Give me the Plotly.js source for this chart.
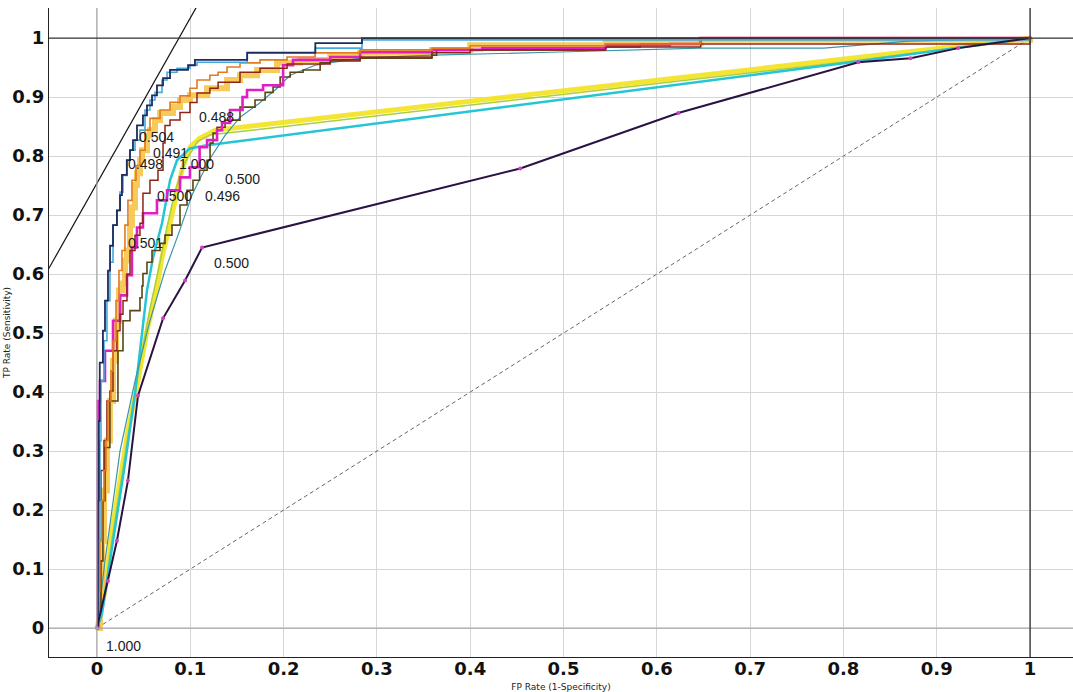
<!DOCTYPE html>
<html>
<head>
<meta charset="utf-8">
<script src="https://cdn.plot.ly/plotly-3.0.1.min.js"></script>
<style>
  html, body { margin: 0; padding: 0; background: #ffffff; }
  #chart { width: 1073px; height: 692px; }
</style>
</head>
<body>
<div id="chart"></div>
<script>
// ROC curves of several classifiers (FP rate vs TP rate)

const tickVals = [0, 0.1, 0.2, 0.3, 0.4, 0.5, 0.6, 0.7, 0.8, 0.9, 1];
const xTickText = ['0', '0.1', '0.2', '0.3', '0.4', '0.5', '0.6', '0.7', '0.8', '0.9', '1'];
const yTickText = ['0', '0.1', '0.2', '0.3', '0.4', '0.5', '0.6', '0.7', '0.8', '0.9', '1'];

// stepped curves
const fprNavy = [0, 0.001, 0.002, 0.003, 0.0064, 0.0086, 0.0118, 0.014, 0.0172, 0.0214, 0.0247, 0.0268, 0.032, 0.0354, 0.0386, 0.0429, 0.0493, 0.0536, 0.059, 0.0643, 0.0708, 0.0783, 0.0976, 0.105, 0.161, 0.234, 0.284, 1];
const tprNavy = [0, 0.216, 0.351, 0.45, 0.504, 0.555, 0.606, 0.648, 0.683, 0.708, 0.734, 0.768, 0.793, 0.81, 0.827, 0.852, 0.869, 0.886, 0.903, 0.92, 0.932, 0.946, 0.954, 0.963, 0.975, 0.9915, 1.0, 1.0];

const fprSky = [0, 0.001, 0.0032, 0.0043, 0.0075, 0.0107, 0.0139, 0.0172, 0.0214, 0.0247, 0.0279, 0.0322, 0.0354, 0.0408, 0.0461, 0.0515, 0.0568, 0.0622, 0.0697, 0.0751, 0.0858, 0.0997, 0.1072, 0.161, 0.234, 0.284, 1];
const tprSky = [0, 0.148, 0.317, 0.419, 0.487, 0.555, 0.62, 0.683, 0.708, 0.739, 0.767, 0.793, 0.81, 0.827, 0.844, 0.878, 0.895, 0.908, 0.929, 0.942, 0.949, 0.954, 0.959, 0.976, 0.983, 0.997, 1.0];

const fprGold = [0, 0.0032, 0.0054, 0.0075, 0.0107, 0.0139, 0.0172, 0.0204, 0.0236, 0.0268, 0.03, 0.0322, 0.0354, 0.0375, 0.0408, 0.0429, 0.0461, 0.0483, 0.0536, 0.0568, 0.0622, 0.0676, 0.0815, 0.089, 0.0997, 0.118, 0.1394, 0.1533, 0.1716, 0.193, 0.2177, 0.25, 0.282, 0.359, 0.4, 0.545, 0.647, 1];
const tprGold = [0, 0.046, 0.148, 0.233, 0.318, 0.385, 0.453, 0.521, 0.572, 0.584, 0.623, 0.64, 0.683, 0.713, 0.751, 0.771, 0.793, 0.81, 0.835, 0.844, 0.861, 0.873, 0.883, 0.895, 0.903, 0.915, 0.929, 0.937, 0.946, 0.958, 0.963, 0.969, 0.975, 0.98, 0.988, 0.992, 0.997, 1.0];

const fprOrange = [0, 0.002, 0.003, 0.005, 0.0075, 0.0097, 0.0118, 0.015, 0.0172, 0.0204, 0.0236, 0.0268, 0.03, 0.0332, 0.0375, 0.0418, 0.0461, 0.0515, 0.0568, 0.0676, 0.0783, 0.089, 0.0997, 0.1072, 0.121, 0.1298, 0.1394, 0.1533, 0.1748, 0.2037, 0.2338, 0.282, 0.359, 0.4, 0.545, 0.647, 1];
const tprOrange = [0, 0.063, 0.148, 0.216, 0.267, 0.318, 0.385, 0.436, 0.487, 0.555, 0.606, 0.64, 0.683, 0.725, 0.759, 0.784, 0.81, 0.844, 0.864, 0.878, 0.891, 0.902, 0.915, 0.929, 0.937, 0.942, 0.951, 0.958, 0.963, 0.968, 0.975, 0.98, 0.983, 0.987, 0.99, 1.0, 1.0];

const fprRed = [0, 0.001, 0.002, 0.0043, 0.0075, 0.0107, 0.0139, 0.0172, 0.0214, 0.0247, 0.0279, 0.0322, 0.0354, 0.0408, 0.0461, 0.0493, 0.0568, 0.0654, 0.0708, 0.0729, 0.0783, 0.089, 0.0997, 0.1072, 0.121, 0.1298, 0.1533, 0.1748, 0.2037, 0.25, 0.282, 0.359, 0.4, 0.545, 0.647, 1];
const tprRed = [0, 0.114, 0.216, 0.267, 0.318, 0.385, 0.402, 0.47, 0.504, 0.532, 0.555, 0.6, 0.64, 0.666, 0.686, 0.737, 0.759, 0.776, 0.822, 0.852, 0.861, 0.874, 0.891, 0.907, 0.915, 0.925, 0.942, 0.949, 0.956, 0.961, 0.968, 0.975, 0.98, 0.985, 0.99, 1.0];

const fprMagenta = [0, 0.001, 0.0032, 0.0086, 0.0172, 0.0247, 0.0322, 0.0375, 0.0429, 0.0493, 0.0643, 0.0751, 0.089, 0.0997, 0.11, 0.118, 0.1287, 0.134, 0.1426, 0.156, 0.1608, 0.1748, 0.178, 0.1995, 0.2101, 0.25, 0.282, 0.359, 0.413, 0.545, 0.614, 0.647, 1];
const tprMagenta = [0, 0.385, 0.419, 0.47, 0.521, 0.564, 0.598, 0.645, 0.679, 0.703, 0.725, 0.742, 0.764, 0.781, 0.815, 0.827, 0.844, 0.856, 0.878, 0.9, 0.912, 0.912, 0.92, 0.954, 0.963, 0.968, 0.976, 0.98, 0.983, 0.988, 0.99, 1.0, 1.0];

const fprOlive = [0, 0.002, 0.0043, 0.0064, 0.0086, 0.0139, 0.0225, 0.0279, 0.0354, 0.0461, 0.0483, 0.0493, 0.0536, 0.059, 0.0676, 0.0729, 0.0804, 0.089, 0.0965, 0.1029, 0.11, 0.118, 0.1212, 0.1244, 0.1287, 0.1373, 0.1533, 0.1694, 0.1802, 0.1887, 0.1963, 0.207, 0.2209, 0.2392, 0.25, 0.282, 0.359, 0.364, 0.545, 0.582, 0.647, 1];
const tprOlive = [0, 0.029, 0.114, 0.216, 0.306, 0.385, 0.47, 0.521, 0.538, 0.56, 0.58, 0.601, 0.62, 0.64, 0.652, 0.666, 0.683, 0.717, 0.742, 0.759, 0.776, 0.793, 0.822, 0.839, 0.849, 0.861, 0.883, 0.895, 0.908, 0.917, 0.934, 0.942, 0.946, 0.958, 0.963, 0.966, 0.971, 0.98, 0.985, 0.99, 1.0, 1.0];

// smooth curves
const fprTeal = [0, 0.0086, 0.0247, 0.0408, 0.0568, 0.0729, 0.0869, 0.0944, 0.1019, 0.1105, 0.1212, 0.1373, 0.1533, 0.1726, 0.1909, 0.207, 0.2338, 0.282, 0.359, 0.486, 0.647, 0.779, 0.87, 1];
const tprTeal = [0, 0.114, 0.3, 0.419, 0.521, 0.606, 0.666, 0.7, 0.734, 0.762, 0.796, 0.835, 0.866, 0.888, 0.912, 0.937, 0.954, 0.966, 0.971, 0.976, 0.983, 0.983, 0.995, 1.0];

const fprCyan = [0, 0.0054, 0.0161, 0.03, 0.0408, 0.0483, 0.0536, 0.0601, 0.0697, 0.0783, 0.0858, 0.0997, 0.116, 0.808, 1];
const tprCyan = [0, 0.024, 0.136, 0.278, 0.397, 0.504, 0.572, 0.628, 0.686, 0.759, 0.793, 0.813, 0.818, 0.959, 1.0];

const fprYellow = [0, 0.0086, 0.0161, 0.0247, 0.0332, 0.044, 0.0536, 0.0643, 0.0697, 0.0783, 0.0858, 0.0911, 0.0997, 0.11, 0.127, 0.8, 1];
const tprYellow = [0, 0.063, 0.165, 0.25, 0.334, 0.419, 0.504, 0.577, 0.628, 0.686, 0.742, 0.776, 0.815, 0.83, 0.844, 0.963, 1.0];

const fprLime = [0, 0.0075, 0.0161, 0.0268, 0.0375, 0.0483, 0.0579, 0.0676, 0.0751, 0.0836, 0.0944, 0.108, 0.122, 0.81, 1];
const tprLime = [0, 0.05, 0.15, 0.26, 0.37, 0.47, 0.55, 0.62, 0.68, 0.74, 0.79, 0.825, 0.836, 0.961, 1.0];

const fprPurple = [0, 0.0118, 0.0214, 0.0332, 0.044, 0.0708, 0.0944, 0.1126, 0.4536, 0.623, 0.816, 0.872, 0.923, 1];
const tprPurple = [0, 0.08, 0.148, 0.25, 0.394, 0.525, 0.589, 0.645, 0.779, 0.873, 0.959, 0.966, 0.983, 1.0];

// reference lines
const chanceX = [0, 1];
const chanceY = [0, 1];
const isoX = [-0.06, 0.11];
const isoY = [0.586, 1.062];

// threshold labels
const thrText = ['0.488', '0.504', '0.491', '0.498', '1.000', '0.500', '0.500', '0.496', '0.501', '0.500', '1.000'];
const thrX = [0.128, 0.064, 0.079, 0.0525, 0.107, 0.1555, 0.0836, 0.135, 0.0515, 0.1437, 0.0279];
const thrY = [0.866, 0.832, 0.806, 0.786, 0.786, 0.761, 0.732, 0.732, 0.652, 0.618, -0.031];

function stepped(x, y, color, width, opacity) {
  return { x: x, y: y, mode: 'lines', type: 'scatter', hoverinfo: 'skip',
           line: { color: color, width: width, shape: 'hv' }, opacity: opacity || 1 };
}
function smooth(x, y, color, width, opacity) {
  return { x: x, y: y, mode: 'lines', type: 'scatter', hoverinfo: 'skip',
           line: { color: color, width: width }, opacity: opacity || 1 };
}

const traces = [
  smooth(chanceX, chanceY, '#666666', 1),
  smooth(fprYellow, tprYellow, '#f3e21f', 5, 0.9),
  stepped(fprGold, tprGold, '#f4c23c', 6, 0.85),
  smooth(fprLime, tprLime, '#a9cf3b', 1.5),
  smooth(fprCyan, tprCyan, '#24c6d6', 2.5),
  smooth(fprTeal, tprTeal, '#3a95a8', 1.2),
  stepped(fprOlive, tprOlive, '#5a4414', 1.6),
  stepped(fprMagenta, tprMagenta, '#e11ec3', 2.6),
  stepped(fprRed, tprRed, '#8e2416', 1.5),
  stepped(fprOrange, tprOrange, '#e27a22', 1.6),
  stepped(fprSky, tprSky, '#45a9dc', 1.6),
  stepped(fprNavy, tprNavy, '#1c2c5e', 1.8),
  { x: fprPurple, y: tprPurple, mode: 'lines+markers', type: 'scatter', hoverinfo: 'skip',
    line: { color: '#2a1242', width: 2 }, marker: { color: '#d23cc8', size: 4 } },
  smooth(isoX, isoY, '#111111', 1.2)
];
traces[0].line.dash = '4px,3px';

const annotations = thrText.map((t, i) => ({
  x: thrX[i], y: thrY[i], xref: 'x', yref: 'y', text: t, showarrow: false,
  font: { family: 'Liberation Sans, Arial, sans-serif', size: 14, color: '#1b1b1b' }
}));

const shapes = [
  { type: 'line', xref: 'x', yref: 'paper', x0: 0, x1: 0, y0: 0, y1: 1, line: { color: '#a8a8a8', width: 1.2 } },
  { type: 'line', xref: 'paper', yref: 'y', x0: 0, x1: 1, y0: 0, y1: 0, line: { color: '#a8a8a8', width: 1.2 } },
  { type: 'line', xref: 'x', yref: 'paper', x0: 1, x1: 1, y0: 0, y1: 1, line: { color: '#3a3a3a', width: 1.4 } },
  { type: 'line', xref: 'paper', yref: 'y', x0: 0, x1: 1, y0: 1, y1: 1, line: { color: '#3a3a3a', width: 1.4 } }
];

const tickFont = { family: 'DejaVu Sans, sans-serif', size: 18, color: '#111111', weight: 'bold' };

const layout = {
  width: 1073, height: 692,
  margin: { l: 49, r: 0, t: 8, b: 35 },
  paper_bgcolor: '#ffffff', plot_bgcolor: '#ffffff',
  showlegend: false,
  xaxis: {
    range: [-0.0514, 1.046], tickvals: tickVals, ticktext: xTickText,
    tickfont: tickFont, showgrid: true, gridcolor: '#d6d6d6', gridwidth: 1,
    zeroline: false, showline: true, linecolor: '#222222', linewidth: 1.2,
    ticks: '', automargin: false, ticklabelstandoff: -5,
    title: { text: 'FP Rate (1-Specificity)', standoff: 6,
             font: { family: 'DejaVu Sans, sans-serif', size: 9, color: '#222222' } }
  },
  yaxis: {
    range: [-0.049, 1.051], tickvals: tickVals, ticktext: yTickText,
    tickfont: tickFont, showgrid: true, gridcolor: '#d6d6d6', gridwidth: 1,
    zeroline: false, showline: true, linecolor: '#222222', linewidth: 1.2,
    ticks: '', automargin: false,
    title: { text: 'TP Rate (Sensitivity)', standoff: 0,
             font: { family: 'DejaVu Sans, sans-serif', size: 9, color: '#222222' } }
  },
  annotations: annotations,
  shapes: shapes
};

Plotly.newPlot('chart', traces, layout, { staticPlot: true, displayModeBar: false });
</script>
</body>
</html>
